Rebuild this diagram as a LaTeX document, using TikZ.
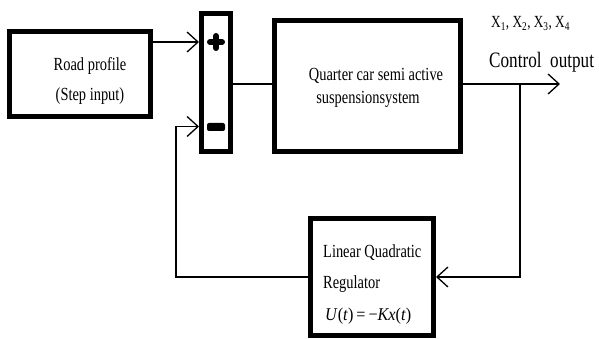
\documentclass[tikz,border=0pt]{standalone}
\usepackage{fontspec}
\setmainfont{Liberation Serif}[FakeStretch=0.78]
\newfontfamily\formfont{Liberation Serif}[FakeStretch=0.9]
\usetikzlibrary{arrows.meta}
\begin{document}
\begin{tikzpicture}[x=1pt,y=-1pt,
  blk/.style={draw, line width=5pt, inner sep=0pt, rectangle},
  lbl/.style={inner sep=0pt, font=\fontsize{18.5}{20}\selectfont},
  wire/.style={line width=1.3pt},
  arr/.style={wire, -{Straight Barb[length=11pt,width=20pt,line width=1.3pt]}}]
\useasboundingbox (0,0) rectangle (599,339);
% boxes
\node[blk, minimum width=141pt, minimum height=85pt] (road) at (80,74) {};
\node[blk, minimum width=29pt, minimum height=138pt] (sum) at (216,82.5) {};
\node[blk, minimum width=186pt, minimum height=131pt] (quarter) at (367.5,86) {};
\node[blk, minimum width=123pt, minimum height=116.5pt] (lqr) at (372,276.75) {};
% texts
\node[lbl, anchor=base] (t1) at (90,71) {Road profile};
\node[lbl, anchor=base] (t2) at (90,101) {(Step input)};
\node[lbl, anchor=base] (t3) at (376,81) {Quarter car semi active};
\node[lbl, anchor=base] (t4) at (368,104) {suspensionsystem};
\node[lbl, anchor=base west] (t5) at (323,257) {Linear Quadratic};
\node[lbl, anchor=base west] (t6) at (323,288) {Regulator};
\node[lbl, anchor=base west, font=\fontsize{18}{20}\formfont] (t7) at (325,320) {\textit{U}(\textit{t})\,=\,−\textit{Kx}(\textit{t})};
\node[lbl, anchor=base west, font=\fontsize{17}{19}\selectfont] (xs) at (491,28) {X\textsubscript{1}, X\textsubscript{2}, X\textsubscript{3}, X\textsubscript{4}};
\node[lbl, anchor=base west, font=\fontsize{22}{24}\selectfont] (co) at (489,68) {Control\ \ output};
% plus and minus signs
\draw[line width=6pt, line cap=round] (216,36) -- (216,48);
\draw[line width=6pt, line cap=round] (210,42) -- (222,42);
\fill[rounded corners=2pt] (207,123) rectangle (225,131);
% coordinates
\coordinate (inY) at (0,42);
\coordinate (fbY) at (0,126.5);
\coordinate (mid) at (0,84);
\coordinate (br) at (520,84);
\coordinate (outEnd) at (560,84);
\coordinate (lowR) at (520,277);
\coordinate (lowL) at (176,277);
% connectors
\draw[arr] (road.east |- inY) -- (sum.west |- inY);
\draw[wire] (sum.east |- mid) -- (quarter.west |- mid);
\draw[arr] (quarter.east |- mid) -- (outEnd);
\draw[arr] (br) -- (lowR) -- (lqr.east |- lowR);
\draw[arr] (lqr.west |- lowL) -- (lowL) -- (lowL |- fbY) -- (sum.west |- fbY);
\end{tikzpicture}
\end{document}
